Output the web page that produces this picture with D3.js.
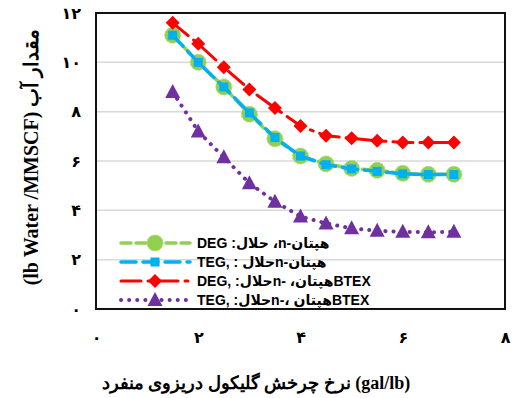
<!DOCTYPE html>
<html>
<head>
<meta charset="utf-8">
<script src="https://cdn.jsdelivr.net/npm/d3@7/dist/d3.min.js"></script>
<style>
  html, body { margin: 0; padding: 0; background: #fff; }
  svg { display: block; }
</style>
</head>
<body>
<svg id="chart" width="514" height="398"></svg>
<script>
// ---- data ----
const glycolRate = [1.5, 2, 2.5, 3, 3.5, 4, 4.5, 5, 5.5, 6, 6.5, 7];
const degHeptane = [11.1, 10.0, 9.0, 7.9, 6.9, 6.2, 5.88, 5.7, 5.62, 5.5, 5.46, 5.46];
const tegHeptane = [11.1, 10.0, 9.0, 7.95, 6.95, 6.2, 5.85, 5.68, 5.58, 5.48, 5.45, 5.45];
const degBtex = [11.6, 10.75, 9.8, 8.9, 8.15, 7.42, 7.02, 6.92, 6.82, 6.75, 6.75, 6.75];
const tegBtex = [8.8, 7.2, 6.15, 5.1, 4.35, 3.75, 3.47, 3.27, 3.17, 3.13, 3.11, 3.13];
const xTicks = [0, 2, 4, 6, 8];
const yTicks = [0, 2, 4, 6, 8, 10, 12];
const legendLabels = [
  "DEG :حلال ،n-هپتان",
  "TEG, : حلالn-هپتان",
  "DEG, :حلالn- ،هپتانBTEX",
  "TEG, :حلالn-، هپتانBTEX"
];
const xTitle = "نرخ چرخش گلیکول دریزوی منفرد (gal/lb)";
const yTitle = "(lb Water /MMSCF) مقدار آب";

const faDigits = s => String(s).replace(/\d/g, d => "۰۱۲۳۴۵۶۷۸۹"[+d]);

// ---- layout ----
const svg = d3.select("#chart");
const L = 96, R = 505, T = 13, B = 309;
const x = d3.scaleLinear().domain([0, 8]).range([L, R]);
const y = d3.scaleLinear().domain([0, 12]).range([B, T]);

// gridlines
svg.append("g").selectAll("line")
  .data(yTicks.filter(v => v > 0 && v < 12))
  .join("line")
  .attr("x1", L).attr("x2", R)
  .attr("y1", d => y(d)).attr("y2", d => y(d))
  .attr("stroke", "#d9d9d9").attr("stroke-width", 1.5);

// axes
const yAxis = svg.append("g").attr("transform", `translate(${L},0)`)
  .call(d3.axisLeft(y).tickValues(yTicks).tickSize(0).tickPadding(15).tickFormat(faDigits));
const xAxis = svg.append("g").attr("transform", `translate(0,${B})`)
  .call(d3.axisBottom(x).tickValues(xTicks).tickSize(0).tickPadding(23).tickFormat(faDigits));
[yAxis, xAxis].forEach(g => {
  g.select(".domain").remove();
  g.selectAll("text")
    .attr("fill", "#000")
    .style("font-family", "'DejaVu Sans', sans-serif")
    .style("font-weight", "bold")
    .style("font-size", "16px");
});

// series
const series = [
  { vals: degHeptane, color: "#92d050", dash: "10,5", width: 3.5, marker: "circle" },
  { vals: tegHeptane, color: "#00b0f0", dash: "15,7", width: 3.5, marker: "square" },
  { vals: degBtex, color: "#ff0000", dash: "20,7,3,7", width: 3, marker: "diamond" },
  { vals: tegBtex, color: "#7030a0", dash: "0.1,8", width: 4, marker: "triangle" }
];

function drawMarker(g, type, color) {
  if (type === "circle") {
    g.append("circle").attr("r", 8).attr("fill", color)
      .attr("stroke", "#a9dc6e").attr("stroke-width", 1).attr("stroke-dasharray", "2,1.5");
  } else if (type === "square") {
    g.append("rect").attr("x", -4.5).attr("y", -4.5).attr("width", 9).attr("height", 9).attr("fill", color);
  } else if (type === "diamond") {
    g.append("path").attr("d", "M0,-7L7,0L0,7L-7,0Z").attr("fill", color);
  } else {
    g.append("path").attr("d", "M0,-8L7.5,6L-7.5,6Z").attr("fill", color);
  }
}

const line = d3.line().x(d => x(d[0])).y(d => y(d[1]));
series.forEach(s => {
  const pts = glycolRate.map((r, i) => [r, s.vals[i]]);
  svg.append("path").datum(pts).attr("d", line)
    .attr("fill", "none").attr("stroke", s.color).attr("stroke-width", s.width)
    .attr("stroke-dasharray", s.dash).attr("stroke-linecap", "round");
  svg.append("g").selectAll("g").data(pts).join("g")
    .attr("transform", d => `translate(${x(d[0])},${y(d[1])})`)
    .each(function () { drawMarker(d3.select(this), s.marker, s.color); });
});

// legend
const legY = [243, 262, 281, 300];
series.forEach((s, i) => {
  const g = svg.append("g");
  g.append("line").attr("x1", 121).attr("x2", 190).attr("y1", legY[i]).attr("y2", legY[i])
    .attr("stroke", s.color).attr("stroke-width", s.width)
    .attr("stroke-dasharray", s.dash).attr("stroke-linecap", "round");
  const m = g.append("g").attr("transform", `translate(155,${legY[i]})`);
  drawMarker(m, s.marker, s.color);
  g.append("text").attr("x", 197).attr("y", legY[i] + 5)
    .attr("direction", "ltr")
    .style("font-family", "'Liberation Sans', 'DejaVu Sans', sans-serif")
    .style("font-weight", "bold").style("font-size", "14px")
    .text(legendLabels[i]);
});

// frame
svg.append("rect").attr("x", L).attr("y", T).attr("width", R - L).attr("height", B - T)
  .attr("fill", "none").attr("stroke", "#111").attr("stroke-width", 2);

// axis titles
svg.append("text").attr("x", 256).attr("y", 389).attr("text-anchor", "middle")
  .style("font-family", "'Liberation Serif', 'DejaVu Serif', serif")
  .style("font-weight", "bold").style("font-size", "18px")
  .text(xTitle);
svg.append("text").attr("transform", "translate(38,157) rotate(-90)").attr("text-anchor", "middle")
  .style("font-family", "'Liberation Serif', 'DejaVu Serif', serif")
  .style("font-weight", "bold").style("font-size", "20px")
  .text(yTitle);
</script>
</body>
</html>
